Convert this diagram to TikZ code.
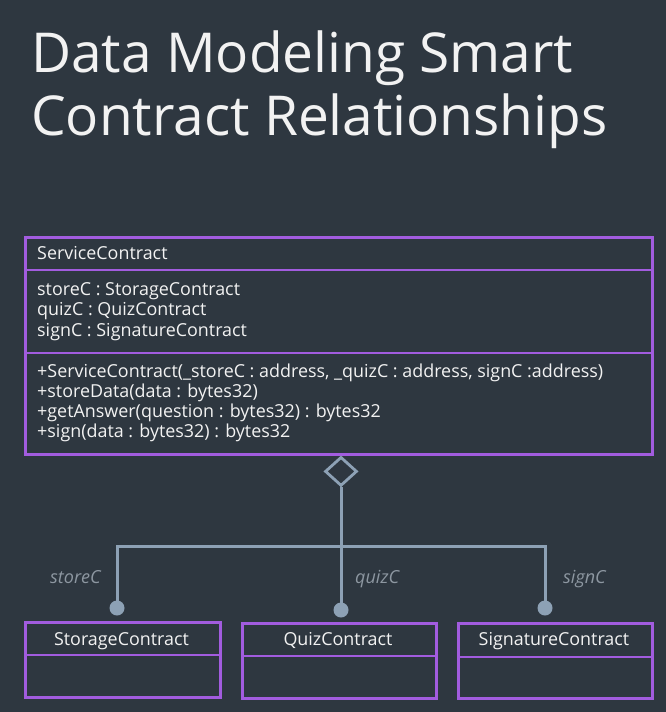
\documentclass[tikz,border=0pt]{standalone}
\usepackage{fontspec}
\setmainfont{Open Sans}
\usetikzlibrary{shapes.geometric}
\definecolor{bg}{HTML}{2E3740}
\definecolor{umlpurple}{HTML}{A25CDF}
\definecolor{conn}{HTML}{8DA1B5}
\definecolor{lbl}{HTML}{8D97A1}
\definecolor{txt}{HTML}{F2F2F2}
\begin{document}
\begin{tikzpicture}[x=1pt,y=-1pt,
  box/.style={draw=umlpurple,line width=2.8pt,inner sep=0pt},
  divider/.style={draw=umlpurple,line width=2.8pt},
  umltext/.style={text=txt,font=\fontsize{17.9}{20.5}\selectfont,inner sep=0pt,anchor=base west},
  classname/.style={text=txt,font=\fontsize{17.9}{20.5}\selectfont,inner sep=0pt,anchor=base},
  rolelabel/.style={text=lbl,font=\itshape\fontsize{18}{20}\selectfont,inner sep=0pt,anchor=base west},
  titletext/.style={text=txt,font=\fontsize{55}{63}\selectfont,inner sep=0pt,anchor=base west},
  connline/.style={draw=conn,line width=3pt},
  balltip/.style={circle,fill=conn,minimum size=15pt,inner sep=0pt}]
\fill[bg] (0,0) rectangle (666,712);
\useasboundingbox (0,0) rectangle (666,712);
% title
\node[titletext] (title1) at (31,72) {Data Modeling Smart};
\node[titletext] (title2) at (31,135) {Contract Relationships};
% Service contract box
\node[box,minimum width=627pt,minimum height=217pt,anchor=north west] (svc) at (24,236) {};
\draw[divider] (24,270) -- (651,270);
\draw[divider] (24,353) -- (651,353);
\node[umltext] (svcname) at (37,259) {ServiceContract};
\node[umltext] (a1) at (37,295) {storeC : StorageContract};
\node[umltext] (a2) at (37,315.5) {quizC : QuizContract};
\node[umltext] (a3) at (37,336) {signC : SignatureContract};
\node[umltext] (m1) at (37,377) {+ServiceContract(\_storeC : address, \_quizC : address, signC :address)};
\node[umltext] (m2) at (37,397) {+storeData(data : bytes32)};
\node[umltext] (m3) at (37,417) {+getAnswer(question : bytes32) : bytes32};
\node[umltext] (m4) at (37,437) {+sign(data : bytes32) : bytes32};
% aggregation diamond
\node[diamond,draw=conn,line width=2.8pt,minimum width=32pt,minimum height=29pt,inner sep=0pt,anchor=north] (dia) at (341,455.5) {};
% bottom classes
\node[box,minimum width=195pt,minimum height=75pt,anchor=north west] (sto) at (24,621) {};
\draw[divider] (24,655) -- (219,655);
\node[classname] (stoname) at (121.5,645) {StorageContract};
\node[box,minimum width=194pt,minimum height=75pt,anchor=north west] (quiz) at (241,622) {};
\draw[divider] (241,656) -- (435,656);
\node[classname] (quizname) at (338,645) {QuizContract};
\node[box,minimum width=194pt,minimum height=75pt,anchor=north west] (sig) at (457,622) {};
\draw[divider] (457,657) -- (651,657);
\node[classname] (signame) at (554,645) {SignatureContract};
% connectors
\coordinate (jl) at (117,546);
\coordinate (jr) at (545,546);
\node[balltip] (b1) at (117,608) {};
\node[balltip] (b2) at (341,610) {};
\node[balltip] (b3) at (545,608) {};
\draw[connline] (dia.south) -- (b2.center);
\draw[connline] (b1.center) -- (jl) -- (jr) -- (b3.center);
% role labels
\node[rolelabel] (l1) at (50,583) {storeC};
\node[rolelabel] (l2) at (355,583) {quizC};
\node[rolelabel] (l3) at (563,583) {signC};
\end{tikzpicture}
\end{document}
